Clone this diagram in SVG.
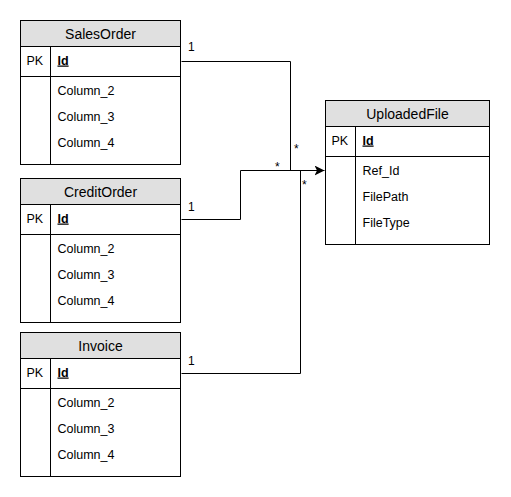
<svg xmlns="http://www.w3.org/2000/svg" width="511" height="497" viewBox="0 0 511 497">
<style>
.box{fill:#ffffff;stroke:#000000;stroke-width:1}
.hdr{fill:#e0e0e0;stroke:#000000;stroke-width:1}
.ln{stroke:#000000;stroke-width:1;fill:none}
.title{font-family:"Liberation Sans",Arial,sans-serif;font-size:14px;fill:#000;text-anchor:middle}
.t{font-family:"Liberation Sans",Arial,sans-serif;font-size:12.5px;fill:#000}
.pk{font-family:"Liberation Sans",Arial,sans-serif;font-size:12.5px;font-weight:bold;text-decoration:underline;fill:#000}
.lbl{font-family:"Liberation Sans",Arial,sans-serif;font-size:12px;fill:#000}
</style>
<defs>
<marker id="arr" markerWidth="12" markerHeight="10" refX="10" refY="5" orient="auto" markerUnits="userSpaceOnUse">
<path d="M0,0 L10,5 L0,10 L2.5,5 Z" fill="#000"/>
</marker>
</defs>
<g id="connectors">
<path class="ln" d="M181.5,61.5 H290.5 V170.5"/>
<path class="ln" d="M181.5,219.5 H240.5 V170.5 H324.5" marker-end="url(#arr)"/>
<path class="ln" d="M181.5,373.5 H300.5 V170.5"/>
<text class="lbl" x="188" y="51">1</text>
<text class="lbl" x="188" y="211">1</text>
<text class="lbl" x="188" y="365">1</text>
<text class="lbl" x="294" y="153">*</text>
<text class="lbl" x="275" y="171">*</text>
<text class="lbl" x="302" y="189">*</text>
</g>
<g id="SalesOrder" transform="translate(20.5,20.5)">
<rect class="box" x="0" y="0" width="160" height="144"/>
<rect class="hdr" x="0" y="0" width="160" height="26"/>
<line class="ln" x1="0" y1="56" x2="160" y2="56"/>
<line class="ln" x1="30" y1="26" x2="30" y2="144"/>
<text class="title" x="80" y="18.5">SalesOrder</text>
<text class="t" x="6" y="44">PK</text>
<text class="pk" x="37" y="44">Id</text>
<text class="t" x="37" y="74">Column_2</text>
<text class="t" x="37" y="100">Column_3</text>
<text class="t" x="37" y="126">Column_4</text>
</g>
<g id="CreditOrder" transform="translate(20.5,178.5)">
<rect class="box" x="0" y="0" width="160" height="144"/>
<rect class="hdr" x="0" y="0" width="160" height="26"/>
<line class="ln" x1="0" y1="56" x2="160" y2="56"/>
<line class="ln" x1="30" y1="26" x2="30" y2="144"/>
<text class="title" x="80" y="18.5">CreditOrder</text>
<text class="t" x="6" y="44">PK</text>
<text class="pk" x="37" y="44">Id</text>
<text class="t" x="37" y="74">Column_2</text>
<text class="t" x="37" y="100">Column_3</text>
<text class="t" x="37" y="126">Column_4</text>
</g>
<g id="Invoice" transform="translate(20.5,332.5)">
<rect class="box" x="0" y="0" width="160" height="144"/>
<rect class="hdr" x="0" y="0" width="160" height="26"/>
<line class="ln" x1="0" y1="56" x2="160" y2="56"/>
<line class="ln" x1="30" y1="26" x2="30" y2="144"/>
<text class="title" x="80" y="18.5">Invoice</text>
<text class="t" x="6" y="44">PK</text>
<text class="pk" x="37" y="44">Id</text>
<text class="t" x="37" y="74">Column_2</text>
<text class="t" x="37" y="100">Column_3</text>
<text class="t" x="37" y="126">Column_4</text>
</g>
<g id="UploadedFile" transform="translate(325.5,100.5)">
<rect class="box" x="0" y="0" width="164" height="144"/>
<rect class="hdr" x="0" y="0" width="164" height="26"/>
<line class="ln" x1="0" y1="56" x2="164" y2="56"/>
<line class="ln" x1="30" y1="26" x2="30" y2="144"/>
<text class="title" x="82" y="18.5">UploadedFile</text>
<text class="t" x="6" y="44">PK</text>
<text class="pk" x="37" y="44">Id</text>
<text class="t" x="37" y="74">Ref_Id</text>
<text class="t" x="37" y="100">FilePath</text>
<text class="t" x="37" y="126">FileType</text>
</g>
</svg>
